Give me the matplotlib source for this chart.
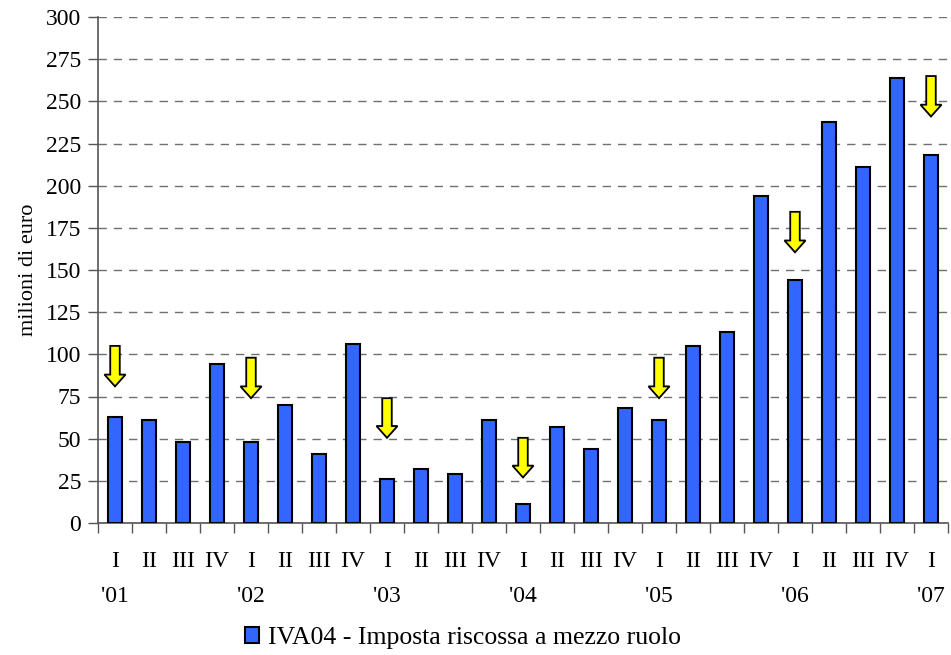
import matplotlib
matplotlib.use("Agg")
import matplotlib.pyplot as plt
import matplotlib.transforms as mtransforms
import numpy as np

quarters = ["I", "II", "III", "IV", "I", "II", "III", "IV", "I", "II", "III", "IV",
            "I", "II", "III", "IV", "I", "II", "III", "IV", "I", "II", "III", "IV", "I"]
years = ["'01", "'02", "'03", "'04", "'05", "'06", "'07"]
year_positions = [0, 4, 8, 12, 16, 20, 24]
values = [63, 61, 48, 94, 48, 70, 41, 106, 26, 32, 29, 61, 11, 57, 44, 68,
          61, 105, 113, 194, 144, 238, 211, 264, 218]
arrow_positions = [0, 4, 8, 12, 16, 20, 24]
arrow_top = [105, 98, 74, 50.5, 98, 184.5, 265]
arrow_tip = [81, 74, 50.5, 27, 74, 160.5, 241]
yticks = list(range(0, 301, 25))
legend_label = "IVA04 - Imposta riscossa a mezzo ruolo"

plt.rcParams['font.family'] = ['Liberation Serif', 'DejaVu Serif']

fig = plt.figure(figsize=(9.51, 6.55), dpi=100)
ax = fig.add_axes([98/951, 1 - 523/655, (948-98)/951, (523-17)/655])

x = np.arange(len(values))
bars = ax.bar(x, values, width=0.43, color='#3366FF', edgecolor='black',
              linewidth=1.5, zorder=3, label=legend_label)

for p, t, b in zip(arrow_positions, arrow_top, arrow_tip):
    ax.arrow(p, t, 0, -(t - b), width=0.28, head_width=0.62, head_length=7,
             length_includes_head=True, fc='#FFFF00', ec='black', lw=1.3, zorder=4)

ax.set_xlim(-0.5, len(values) - 0.5)
ax.set_ylim(0, 300)
ax.set_yticks(yticks)
ax.set_yticklabels([str(v) for v in yticks], fontsize=17)
ax.yaxis.grid(True, linestyle=(0, (6, 5)), color='#707070', linewidth=1.0, zorder=0)
ax.set_axisbelow(True)

# category boundaries as major ticks, labels at centers as minor ticks
ax.set_xticks(np.arange(-0.5, len(values), 1.0))
ax.set_xticklabels([])
ax.set_xticks(x, minor=True)
ax.set_xticklabels(quarters, minor=True, fontsize=17)
ax.tick_params(axis='x', which='major', length=7, width=1, color='#555555', direction='out')
ax.tick_params(axis='x', which='minor', length=0, pad=20)
ax.tick_params(axis='y', length=7, width=1, color='#555555', pad=5)

trans = mtransforms.blended_transform_factory(ax.transData, ax.transAxes)
for yp, yl in zip(year_positions, years):
    ax.text(yp, -74/506, yl, transform=trans, ha='center', va='center', fontsize=17)

for s in ['top', 'right']:
    ax.spines[s].set_visible(False)
for s in ['left', 'bottom']:
    ax.spines[s].set_color('#555555')
    ax.spines[s].set_linewidth(1.2)

ax.set_ylabel("milioni di euro", fontsize=16, labelpad=6)

fig.legend(handles=[bars], labels=[legend_label], loc='center',
           bbox_to_anchor=(463/951, 1 - 638/655), frameon=False, fontsize=18.5,
           handlelength=0.55, handleheight=0.55, handletextpad=0.35)

fig.savefig("out.png", dpi=100)
